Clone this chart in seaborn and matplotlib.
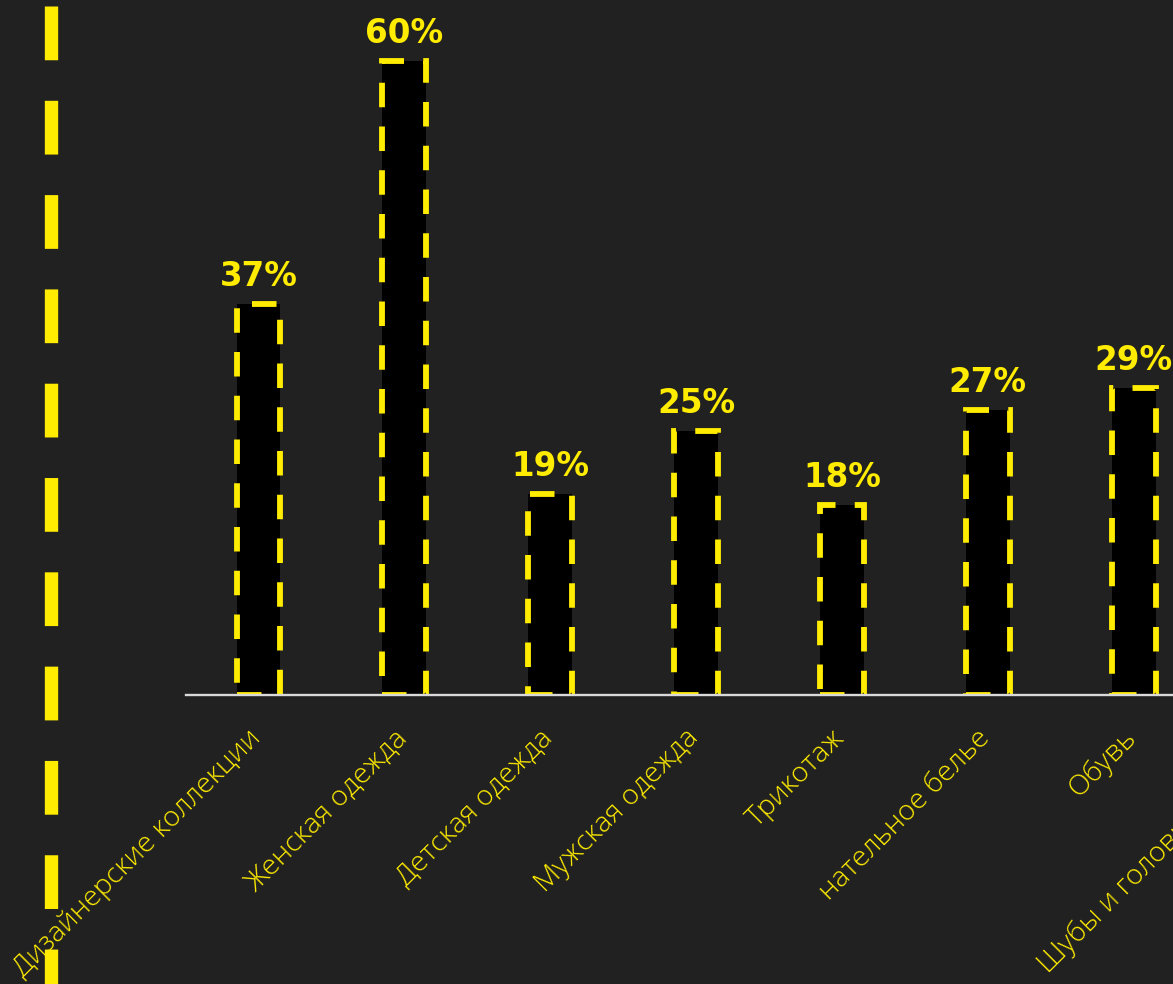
import matplotlib
matplotlib.use("Agg")
import matplotlib.pyplot as plt
import matplotlib.transforms as mtransforms
from matplotlib.lines import Line2D
import seaborn as sns
import pandas as pd

categories = ["Дизайнерские коллекции", "Женская одежда", "Детская одежда",
              "Мужская одежда", "Трикотаж", "нательное белье", "Обувь",
              "Шубы и головные уборы"]
values = [37, 60, 19, 25, 18, 27, 29, 20]

YELLOW = "#FFEC00"
BG = "#212121"

sns.set_theme(style="white")
plt.rcParams["font.family"] = ["DejaVu Sans"]

W, H, DPI = 1173, 984, 100
fig = plt.figure(figsize=(W / DPI, H / DPI), dpi=DPI, facecolor=BG)

ax = fig.add_axes([185.5 / W, (H - 695) / H, 1167 / W, 687 / H])
ax.set_facecolor(BG)

df = pd.DataFrame({"cat": categories, "val": values})
sns.barplot(data=df, x="cat", y="val", color="black", saturation=1,
            width=0.30, edgecolor=YELLOW, linewidth=4.2,
            linestyle=(0, (4.2, 3.3)), ax=ax)
for p in ax.patches:
    p.set_facecolor("black")
    p.set_edgecolor(YELLOW)

ax.set_xlim(-0.5, len(categories) - 0.5)
ax.set_ylim(0, 65)
ax.set_xlabel("")
ax.set_ylabel("")
ax.set_yticks([])

for s in ["top", "right", "left"]:
    ax.spines[s].set_visible(False)
ax.spines["bottom"].set_color("#d9d9d9")
ax.spines["bottom"].set_linewidth(1.7)

ax.bar_label(ax.containers[0], labels=[f"{v}%" for v in values],
             padding=8, color=YELLOW, fontsize=23.5, fontweight="bold",
             family="DejaVu Sans")

ax.tick_params(axis="x", length=0, pad=21)
offset = mtransforms.ScaledTranslation(6 / 72, 0, fig.dpi_scale_trans)
for lab in ax.get_xticklabels():
    lab.set_rotation(45)
    lab.set_ha("right")
    lab.set_color(YELLOW)
    lab.set_fontsize(20.5)
    lab.set_family(["Open Sans", "DejaVu Sans"])
    lab.set_fontweight("light")
    lab.set_transform(lab.get_transform() + offset)

# decorative dashed vertical line at the left
lw_v = 9.6
fig.add_artist(Line2D([51 / W, 51 / W], [1 - 5.7 / H, 0.0],
                      transform=fig.transFigure, color=YELLOW, lw=lw_v,
                      linestyle=(0, (38.7 / lw_v, 29.2 / lw_v)),
                      solid_capstyle="butt", dash_capstyle="butt"))

fig.savefig("out.png", dpi=DPI, facecolor=BG)
